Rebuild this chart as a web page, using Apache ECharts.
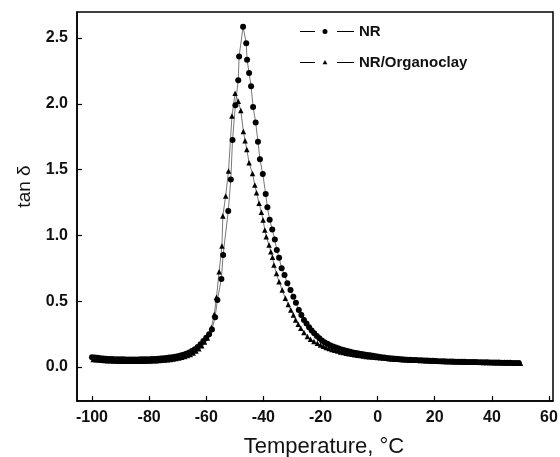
<!DOCTYPE html>
<html><head><meta charset="utf-8">
<script src="https://cdn.jsdelivr.net/npm/echarts@6/dist/echarts.min.js"></script>
<style>html,body{margin:0;padding:0;background:#fff}#c{width:560px;height:457px}</style>
</head><body><div id="c"></div>
<script>
const xTicks = [-100, -80, -60, -40, -20, 0, 20, 40, 60];
const yTicks = [0, 0.5, 1.0, 1.5, 2.0, 2.5];
const seriesNames = ['NR', 'NR/Organoclay'];

const nrTemp = [-100,-99,-98,-97,-96,-95,-94,-93,-92,-91,-90,-89,-88,-87,-86,-85,-84,-83,-82,-81,-80,-79,-78,-77,-76,-75,-74,-73,-72,-71,-70,-69,-68,-67,-66,-65,-64,-63,-62,-61,-60,-59,
-58.0,-56.9,-56.1,-54.7,-54.1,-52.3,-51.4,-50.8,-49.8,-48.8,-48.5,-47.1,-46.0,-45.7,-45.0,-44.3,-43.6,-42.7,-41.9,-41.2,-40.2,-39.2,-38.6,-37.8,-36.9,-36.0,-35.3,-34.5,-33.6,-32.6,-31.6,-30.5,-29.5,-28.6,-27.6,-26.7,-25.8,-24.9,-24.0,-23.1,-22.2,-21.3,-20.4,-19.5,-18.6,-17.6,-16.6,-15.6,-14.6,-13.6,-12.6,-11.6,-10.6,-9.6,-8.6,-7.6,-6.6,-5.6,-4.6,-3.6,-2.6,-1.6,-0.6,
0.4,1.4,2.4,3.4,4.4,5.4,6.4,7.4,8.4,9.4,10.4,11.4,12.4,13.4,14.4,15.4,16.4,17.4,18.4,19.4,20.4,21.4,22.4,23.4,24.4,25.4,26.4,27.4,28.4,29.4,30.4,31.4,32.4,33.4,34.4,35.4,36.4,37.4,38.4,39.4,40.4,41.4,42.4,43.4,44.4,45.4,46.4,47.4,48.4,49.4];
const nrTan = [0.075,0.073,0.070,0.067,0.065,0.063,0.062,0.061,0.060,0.060,0.059,0.059,0.058,0.058,0.058,0.058,0.058,0.059,0.059,0.060,0.060,0.061,0.062,0.063,0.065,0.067,0.069,0.072,0.075,0.079,0.083,0.088,0.094,0.101,0.110,0.121,0.135,0.152,0.174,0.198,0.222,0.250,
0.286,0.378,0.509,0.669,0.851,1.185,1.426,1.725,1.990,2.180,2.360,2.586,2.460,2.335,2.234,2.133,1.976,1.859,1.712,1.580,1.467,1.315,1.215,1.120,1.046,0.970,0.889,0.830,0.750,0.700,0.636,0.585,0.534,0.489,0.433,0.395,0.357,0.330,0.302,0.278,0.256,0.236,0.218,0.202,0.189,0.177,0.166,0.157,0.149,0.141,0.134,0.127,0.121,0.116,0.111,0.107,0.103,0.099,0.095,0.092,0.089,0.086,0.083,
0.078,0.075,0.072,0.069,0.067,0.065,0.063,0.061,0.059,0.058,0.056,0.055,0.054,0.053,0.052,0.051,0.050,0.049,0.048,0.047,0.046,0.045,0.045,0.044,0.043,0.043,0.042,0.041,0.041,0.040,0.040,0.039,0.039,0.038,0.038,0.037,0.037,0.036,0.036,0.035,0.035,0.034,0.034,0.033,0.033,0.032,0.032,0.031,0.031,0.030];

const ocTemp = [-99.6,-98.6,-97.6,-96.6,-95.6,-94.6,-93.6,-92.6,-91.6,-90.6,-89.6,-88.6,-87.6,-86.6,-85.6,-84.6,-83.6,-82.6,-81.6,-80.6,-79.6,-78.6,-77.6,-76.6,-75.6,-74.6,-73.6,-72.6,-71.6,-70.6,-69.6,-68.6,-67.6,-66.6,-65.6,-64.6,-63.6,-62.6,-61.6,-60.6,-59.6,
-58.2,-57.2,-56.4,-55.5,-54.5,-54.2,-53.2,-52.2,-51.0,-49.9,-48.8,-47.9,-47.0,-46.4,-45.8,-45.0,-43.8,-43.0,-42.4,-41.5,-40.7,-40.1,-39.5,-39.0,-38.0,-37.4,-36.8,-36.3,-35.4,-34.5,-33.4,-32.3,-31.3,-30.4,-29.5,-28.7,-27.8,-26.9,-25.8,-24.6,-23.5,-22.3,-21.1,-20.0,-19.0,-18.0,-17.0,-16.0,-15.0,-14.0,-13.0,-12.0,-11.0,-10.0,-9.0,-8.0,-7.0,-6.0,-5.0,-4.0,-3.0,-2.0,-1.0,
0,1,2,3,4,5,6,7,8,9,10,11,12,13,14,15,16,17,18,19,20,21,22,23,24,25,26,27,28,29,30,31,32,33,34,35,36,37,38,39,40,41,42,43,44,45,46,47,48,49,50];
const ocTan = [0.058,0.056,0.053,0.051,0.050,0.048,0.047,0.046,0.046,0.045,0.045,0.044,0.044,0.044,0.044,0.044,0.044,0.045,0.045,0.046,0.046,0.047,0.048,0.050,0.051,0.053,0.055,0.058,0.061,0.065,0.069,0.074,0.080,0.087,0.096,0.107,0.121,0.139,0.162,0.190,0.220,
0.300,0.400,0.530,0.724,0.920,1.147,1.300,1.490,1.907,2.080,2.020,1.950,1.790,1.720,1.654,1.552,1.470,1.383,1.325,1.244,1.176,1.117,1.041,0.990,0.927,0.876,0.834,0.775,0.710,0.648,0.585,0.522,0.475,0.433,0.395,0.357,0.325,0.294,0.262,0.232,0.212,0.195,0.180,0.168,0.158,0.149,0.141,0.134,0.127,0.121,0.115,0.110,0.105,0.101,0.097,0.093,0.090,0.087,0.084,0.081,0.079,0.076,0.074,
0.072,0.070,0.068,0.066,0.064,0.062,0.060,0.059,0.057,0.056,0.055,0.054,0.053,0.052,0.051,0.050,0.049,0.048,0.047,0.046,0.045,0.044,0.044,0.043,0.042,0.042,0.041,0.040,0.040,0.039,0.039,0.038,0.038,0.037,0.037,0.036,0.036,0.035,0.035,0.034,0.034,0.033,0.033,0.032,0.032,0.031,0.031,0.030,0.030,0.029,0.029];

const FONT = 'Liberation Sans, Arial, sans-serif';
const ICON_NR = 'path://M0 2.2H15V3.2H0Z M37 2.2H54V3.2H37Z M22.5 2.7A2.5 2.5 0 1 0 27.5 2.7A2.5 2.5 0 1 0 22.5 2.7Z';
const ICON_OC = 'path://M0 2.2H15V3.2H0Z M37 2.2H54V3.2H37Z M25 0.4L27.4 4.6L22.6 4.6Z M0 5.2H0.01V5.21H0Z';
const chart = echarts.init(document.getElementById('c'), null, {renderer: 'canvas'});
const axisCommon = {
  axisLine: {show: true, onZero: false, lineStyle: {color: '#000', width: 1.5}},
  axisTick: {show: true, inside: true, length: 5, lineStyle: {color: '#000', width: 1.2}},
  splitLine: {show: false}
};
chart.setOption({
  animation: false,
  backgroundColor: '#fff',
  grid: {left: 77, right: 7, top: 12, bottom: 56, outerBoundsMode: 'none', containLabel: false,
    show: true, borderColor: '#000', borderWidth: 1.5, backgroundColor: 'transparent'},
  legend: {
    orient: 'vertical', left: 300, top: 24, padding: 0, itemWidth: 54, itemHeight: 5.2, itemGap: 16,
    itemStyle: {borderWidth: 0},
    textStyle: {fontFamily: FONT, fontWeight: 'bold', fontSize: 15, color: '#111'},
    data: [{name: seriesNames[0], icon: ICON_NR}, {name: seriesNames[1], icon: ICON_OC}]
  },
  xAxis: Object.assign({
    type: 'value', min: -105.25, max: 61.4,
    name: 'Temperature, °C', nameLocation: 'middle', nameGap: 35,
    nameTextStyle: {fontFamily: FONT, fontSize: 22, color: '#111', padding: [0, 0, 0, 18]},
    axisLabel: {customValues: xTicks, margin: 9, fontFamily: FONT, fontWeight: 'bold', fontSize: 16, color: '#111'}
  }, axisCommon, {axisTick: Object.assign({customValues: xTicks}, axisCommon.axisTick)}),
  yAxis: Object.assign({
    type: 'value', min: -0.258, max: 2.698,
    name: 'tan δ', nameLocation: 'middle', nameGap: 43, nameRotate: 90,
    nameTextStyle: {fontFamily: FONT, fontSize: 19, color: '#111', padding: [0, 0, 0, 40]},
    axisLabel: {customValues: yTicks, margin: 9, fontFamily: FONT, fontWeight: 'bold', fontSize: 16, color: '#111',
      formatter: v => v.toFixed(1)}
  }, axisCommon, {axisTick: Object.assign({customValues: yTicks}, axisCommon.axisTick)}),
  series: [
    {name: seriesNames[0], type: 'line', symbol: 'circle', symbolSize: 6,
     itemStyle: {color: '#000'}, lineStyle: {color: '#555', width: 0.8},
     data: nrTemp.map((t, i) => [t, nrTan[i]])},
    {name: seriesNames[1], type: 'line', symbol: 'triangle', symbolSize: 5.5,
     itemStyle: {color: '#000'}, lineStyle: {color: '#555', width: 0.8},
     data: ocTemp.map((t, i) => [t, ocTan[i]])}
  ]
});
</script></body></html>
